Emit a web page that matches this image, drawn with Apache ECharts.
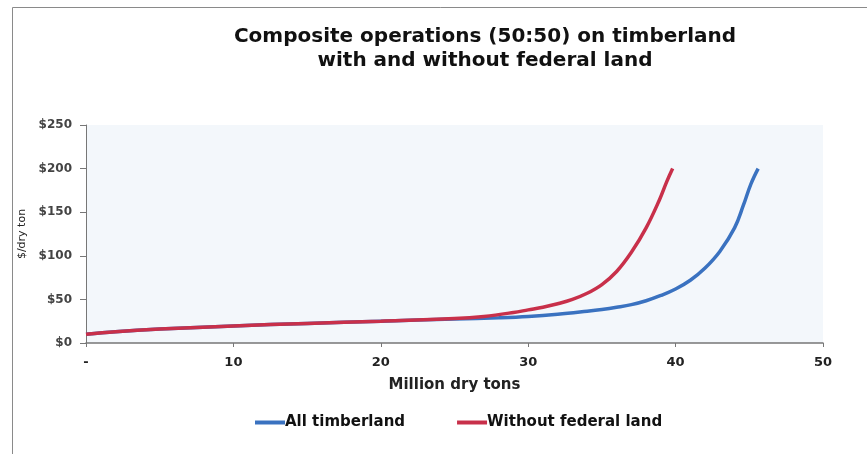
<!DOCTYPE html>
<html>
<head>
<meta charset="utf-8">
<script src="https://cdn.jsdelivr.net/npm/echarts@6/dist/echarts.min.js"></script>
<style>
  html, body { margin: 0; padding: 0; background: #fff; }
  #chart { width: 867px; height: 454px; }
</style>
</head>
<body>
<div id="chart"></div>
<script>
// Supply curves: [million dry tons, $/dry ton]
const allTimberland = [
  [0, 10], [2, 13], [5, 16], [10, 19.5], [15, 22.5], [20, 25], [25, 27.5],
  [28, 29], [30, 30.5], [32, 33], [34, 36.5], [35, 38.5], [36, 41], [37, 44],
  [38, 48.5], [39, 54.5], [40, 62], [41, 72], [42, 86], [43, 105], [44, 132],
  [44.6, 158], [45.1, 182], [45.6, 200]
];
const withoutFederal = [
  [0, 10], [2, 13], [5, 16], [10, 19.5], [15, 22.5], [20, 25], [25, 28],
  [27, 30.5], [29, 35], [30, 38], [31, 41], [32, 45], [33, 50], [34, 57],
  [35, 67], [36, 82], [37, 104], [38, 132], [38.9, 164], [39.4, 185], [39.8, 200]
];
const seriesNames = ['All timberland', 'Without federal land'];
const titleLines = ['Composite operations (50:50) on timberland', 'with and without federal land'];

const font = '"DejaVu Sans", "Liberation Sans", sans-serif';
const chart = echarts.init(document.getElementById('chart'));

chart.setOption({
  animation: false,
  backgroundColor: '#ffffff',
  title: {
    text: titleLines.join('\n'),
    left: 480,
    top: 20,
    textAlign: 'center',
    textStyle: { fontFamily: font, fontSize: 20, fontWeight: 'bold', color: '#111', lineHeight: 24 }
  },
  graphic: [{
    type: 'rect',
    shape: { x: 12.5, y: 7.5, width: 900, height: 500 },
    style: { fill: 'none', stroke: '#8a8a8a', lineWidth: 1 },
    silent: true,
    z: 0
  }],
  grid: {
    left: 86, right: 44, top: 125, bottom: 111,
    show: true, backgroundColor: '#f3f7fb', borderWidth: 0
  },
  legend: {
    data: seriesNames,
    left: 250,
    top: 410,
    itemWidth: 30,
    itemHeight: 4,
    itemGap: 52,
    icon: 'rect',
    textStyle: { fontFamily: font, fontSize: 15, fontWeight: 'bold', color: '#111', padding: [0, 0, 0, -5] }
  },
  xAxis: {
    type: 'value',
    min: 0, max: 50, interval: 10,
    name: 'Million dry tons',
    nameLocation: 'middle',
    nameGap: 35,
    nameTextStyle: { fontFamily: font, fontSize: 15, fontWeight: 'bold', color: '#222' },
    axisLine: { lineStyle: { color: '#777', width: 1.5 } },
    axisTick: { length: 4, lineStyle: { color: '#777' } },
    splitLine: { show: false },
    axisLabel: {
      fontFamily: font, fontSize: 13, fontWeight: 'bold', color: '#222', margin: 13,
      formatter: v => (v === 0 ? '-' : String(v))
    }
  },
  yAxis: {
    type: 'value',
    min: 0, max: 250, interval: 50,
    name: '$/dry ton',
    nameLocation: 'middle',
    nameGap: 58,
    nameTextStyle: { fontFamily: font, fontSize: 11, color: '#222' },
    axisLine: { show: true, lineStyle: { color: '#777', width: 1 } },
    axisTick: { show: true, length: 6, lineStyle: { color: '#777' } },
    splitLine: { show: false },
    axisLabel: {
      fontFamily: font, fontSize: 12, fontWeight: 'bold', color: '#444', margin: 14,
      formatter: v => '$' + v
    }
  },
  series: [
    {
      name: seriesNames[0],
      type: 'line',
      data: allTimberland,
      smooth: 0.4,
      showSymbol: false,
      lineStyle: { color: '#3a72c0', width: 3.5 },
      itemStyle: { color: '#3a72c0' },
      z: 2
    },
    {
      name: seriesNames[1],
      type: 'line',
      data: withoutFederal,
      smooth: 0.4,
      showSymbol: false,
      lineStyle: { color: '#c8304a', width: 3.5 },
      itemStyle: { color: '#c8304a' },
      z: 3
    }
  ]
});
</script>
</body>
</html>
